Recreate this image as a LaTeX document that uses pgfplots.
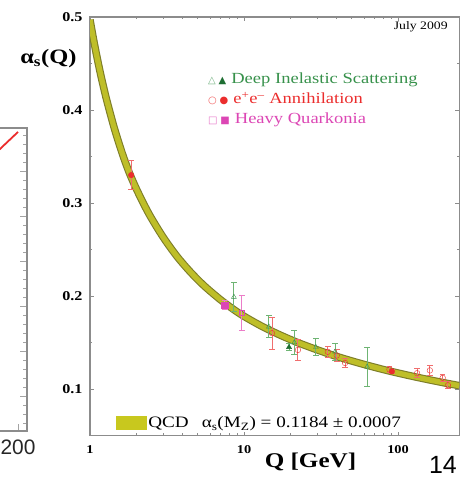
\documentclass[border=0pt]{standalone}
\usepackage{fontspec}
\setmainfont[FakeStretch=1.2]{Liberation Serif}
\newfontfamily\helv{Liberation Sans}
\newfontfamily\dejavu{DejaVu Sans}
\usepackage{pgfplots}
\usepackage{pgfplotstable}
\pgfplotsset{compat=1.18}
\definecolor{disgreen}{RGB}{55,145,75}
\definecolor{disdark}{RGB}{30,110,50}
\definecolor{disbar}{RGB}{110,180,115}
\definecolor{eered}{RGB}{235,45,45}
\definecolor{eebar}{RGB}{240,110,110}
\definecolor{hqpink}{RGB}{220,70,180}
\definecolor{hqbar}{RGB}{235,125,200}
\definecolor{bandin}{RGB}{190,190,40}
\definecolor{bandout}{RGB}{125,125,40}
\definecolor{legyellow}{RGB}{200,200,30}
\definecolor{framegray}{RGB}{140,140,140}
\newcommand{\fs}[1]{\fontsize{#1pt}{#1pt}\selectfont}

\pgfplotstableread{
Q a
1.00 0.497
1.05 0.4774
1.10 0.4602
1.15 0.4447
1.20 0.4309
1.27 0.4137
1.34 0.399
1.42 0.3837
1.50 0.3705
1.63 0.352
1.80 0.3325
2.00 0.3152
2.25 0.2979
2.50 0.2839
3.00 0.2627
3.67 0.2426
4.50 0.2256
5.50 0.2111
7.00 0.1963
8.50 0.1859
10.0 0.1782
13.0 0.1676
17.0 0.1583
20.0 0.1532
22.0 0.1503
30.0 0.1420
40.0 0.1350
55.0 0.1282
75.0 0.1222
91.2 0.1187
120 0.1142
160 0.1098
200 0.1066
250 0.1036
}\qcd

\pgfplotstableread{
Q a e
8.6 0.199 0.016
14.5 0.167 0.012
21.2 0.150 0.013
29.3 0.145 0.009
39 0.140 0.009
63 0.124 0.021
}\disopen
\pgfplotstableread{
Q a e
19.6 0.145 0.004
}\disfull
\pgfplotstableread{
Q a e
15.2 0.160 0.017
22.4 0.142 0.011
35 0.140 0.006
40 0.136 0.006
45.3 0.128 0.005
88 0.121 0.003
133 0.117 0.005
161 0.120 0.005
195 0.112 0.004
211 0.104 0.004
}\eeopen
\pgfplotstableread{
Q a e
1.85 0.330 0.016
91.2 0.119 0.002
}\eefull
\pgfplotstableread{
Q a e
9.7 0.182 0.019
}\hqopen
\pgfplotstableread{
Q a e
7.5 0.190 0.005
}\hqfull

\begin{document}
\begin{tikzpicture}
\useasboundingbox (0bp,0bp) rectangle (460bp,479bp);
\clip (0bp,0bp) rectangle (460bp,479bp);

% partial left chart
\begin{axis}[
  at={(-300bp,48bp)}, anchor=south west, scale only axis,
  width=327bp, height=303bp,
  xmin=-153, xmax=210, ymin=0, ymax=33.67,
  xtick={200}, xticklabels={200}, xtick pos=bottom,
  xticklabel style={font=\helv\fs{21}, text=black!85, yshift=-5bp},
  ytick pos=right, ytick={3.9,8.9,13.9,18.9,23.9,28.9}, yticklabels={},
  minor ytick={0.9,1.9,...,33.9},
  axis line style={framegray, line width=1.3bp},
  tick style={framegray!80, line width=0.7bp},
  major tick length=7bp, minor tick length=4bp,
]
\addplot[eered, line width=1.8bp] coordinates {(150,28.49) (200,33.23)};
\end{axis}

% main chart: frame, QCD curve and QCD legend
\begin{axis}[
  at={(90bp,43.5bp)}, anchor=south west, scale only axis,
  width=369.3bp, height=418.5bp,
  xmode=log, xmin=1, xmax=250, ymin=0.05, ymax=0.5,
  xtick={1,10,100}, xticklabels={1,10,100},
  ytick={0.1,0.2,0.3,0.4,0.5}, yticklabels={0.1,0.2,0.3,0.4,0.5},
  minor ytick={0.05,0.15,0.25,0.35,0.45},
  axis line style={framegray, line width=1.4bp},
  tick style={framegray, line width=0.6bp},
  major tick length=4bp, minor tick length=2.5bp,
  xticklabel style={font=\bfseries\fs{12}, yshift=-7bp},
  yticklabel style={font=\bfseries\fs{13.5}, xshift=-4bp},
  xlabel={Q [GeV]},
  xlabel style={font=\bfseries\fs{21}, at={(axis description cs:0.597,-0.063)}, anchor=center},
  ylabel={α\textsubscript{s}(Q)},
  ylabel style={rotate=-90, font=\bfseries\fs{20.5}, at={(axis description cs:-0.027,0.9)}, anchor=east},
  legend style={at={(axis description cs:0.062,0.03)}, anchor=west, draw=none, fill=none,
    font=\fs{16}, nodes={inner sep=1bp}},
  legend image code/.code={\fill[legyellow] (0bp,-4.5bp) rectangle (26bp,4.5bp);},
]
\addplot[bandout, line width=7.5bp, smooth, forget plot] table[x=Q, y=a] {\qcd};
\addplot[bandin, line width=5.3bp, smooth] table[x=Q, y=a] {\qcd};
\addlegendentry{QCD\hspace{13bp}α\textsubscript{s}(M\textsubscript{Z}) = 0.1184 ± 0.0007}
\node[anchor=north east, font=\fs{11.5}, inner sep=0pt] at (axis description cs:0.969,0.99) {July 2009};
\end{axis}

% data points and their legend
\begin{axis}[
  at={(90bp,43.5bp)}, anchor=south west, scale only axis,
  width=369.3bp, height=418.5bp,
  xmode=log, xmin=1, xmax=250, ymin=0.05, ymax=0.5,
  hide axis,
  legend style={at={(axis description cs:0.311,0.873)}, anchor=north west, draw=none, fill=none,
    font=\fs{15.5}, row sep=5bp, nodes={inner sep=0pt, text height=11bp, text depth=4bp}},
  legend cell align=left,
  legend image code/.code={},
]
\addplot[only marks, mark=triangle, mark size=2.8bp, disgreen,
  error bars/.cd, y dir=both, y explicit,
  error bar style={disbar, line width=1bp},
  error mark options={rotate=90, mark size=2.8bp, disbar, line width=1bp}]
  table[x=Q, y=a, y error=e] {\disopen};
\addlegendentry{\textcolor{disgreen!70}{\dejavu\fs{10}△}\hspace{3bp}\textcolor{disdark}{\dejavu\fs{10}▲}\hspace{5bp}\textcolor{disgreen}{Deep Inelastic Scattering}}
\addplot[only marks, mark=o, mark size=2.8bp, eered,
  error bars/.cd, y dir=both, y explicit,
  error bar style={eebar, line width=1bp},
  error mark options={rotate=90, mark size=2.8bp, eebar, line width=1bp}]
  table[x=Q, y=a, y error=e] {\eeopen};
\addlegendentry{\textcolor{eered!75}{\dejavu\fs{10}○}\hspace{3bp}\textcolor{eered}{\dejavu\fs{10}●}\hspace{5bp}\textcolor{eered}{e\textsuperscript{+}e\textsuperscript{\textendash} Annihilation}}
\addplot[only marks, mark=square, mark size=2.6bp, hqpink,
  error bars/.cd, y dir=both, y explicit,
  error bar style={hqbar, line width=1bp},
  error mark options={rotate=90, mark size=2.8bp, hqbar, line width=1bp}]
  table[x=Q, y=a, y error=e] {\hqopen};
\addlegendentry{\textcolor{hqpink!75}{\dejavu\fs{10}□}\hspace{3bp}\textcolor{hqpink}{\dejavu\fs{10}■}\hspace{5bp}\textcolor{hqpink}{Heavy Quarkonia}}
\addplot[forget plot, only marks, mark=triangle*, mark size=3bp, disdark,
  error bars/.cd, y dir=both, y explicit,
  error bar style={disbar, line width=1bp},
  error mark options={rotate=90, mark size=2.8bp, disbar, line width=1bp}]
  table[x=Q, y=a, y error=e] {\disfull};
\addplot[forget plot, only marks, mark=*, mark size=2.8bp, eered,
  error bars/.cd, y dir=both, y explicit,
  error bar style={eebar, line width=1bp},
  error mark options={rotate=90, mark size=2.8bp, eebar, line width=1bp}]
  table[x=Q, y=a, y error=e] {\eefull};
\addplot[forget plot, only marks, mark=square*, mark size=3.2bp, hqpink,
  error bars/.cd, y dir=both, y explicit,
  error bar style={hqbar, line width=1bp},
  error mark options={rotate=90, mark size=2.8bp, hqbar, line width=1bp}]
  table[x=Q, y=a, y error=e] {\hqfull};
\end{axis}

\node[font=\helv\fs{25}, anchor=base east, inner sep=0pt] at (457bp,6bp) {14};
\end{tikzpicture}
\end{document}
